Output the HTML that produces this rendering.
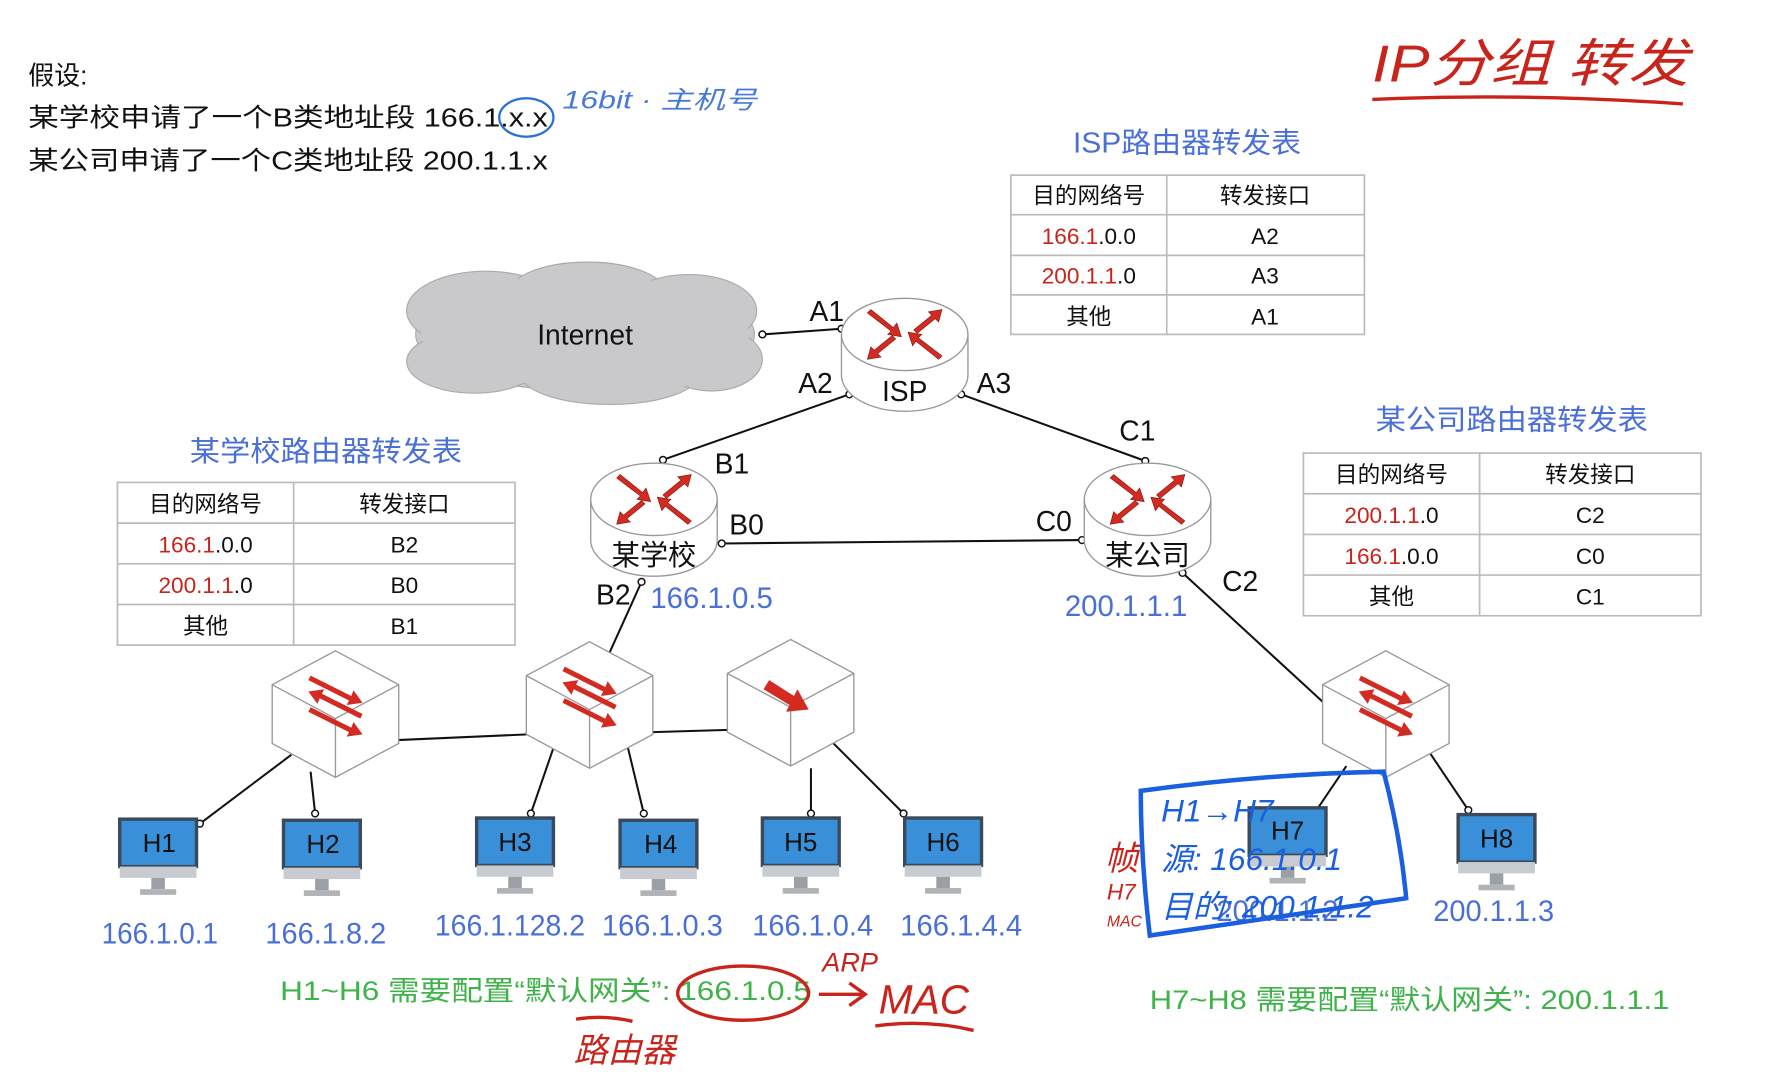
<!DOCTYPE html>
<html><head><meta charset="utf-8"><style>
html,body{margin:0;padding:0;background:#fff;}
svg{display:block;}
text{font-family:"Liberation Sans","Noto Sans CJK SC",sans-serif;}
</style></head><body>
<svg width="1771" height="1079" viewBox="0 0 1568 955" preserveAspectRatio="none" xmlns="http://www.w3.org/2000/svg">
<defs>
<g id="rarrows" fill="#d32a22" stroke="#8a1a14" stroke-width="0.6">
  <path d="M-30,-22 L-10,-6 L-7,-10 L-3,2 L-15,0 L-12,-3 L-33,-19Z"/>
  <path d="M8,-4 L24,-17 L21,-20 L33,-22 L30,-11 L27,-14 L11,-1Z"/>
  <path d="M-8,4 L-24,17 L-21,20 L-33,22 L-30,11 L-27,14 L-11,1Z"/>
  <path d="M30,22 L10,6 L7,10 L3,-2 L15,0 L12,3 L33,19Z"/>
</g>
<g id="router">
  <path d="M-56,0 L-56,36 A56,32 0 0 0 56,36 L56,0" fill="#fff" stroke="#999" stroke-width="1.2"/>
  <ellipse cx="0" cy="0" rx="56" ry="32" fill="#fff" stroke="#999" stroke-width="1.2"/>
  <use href="#rarrows"/>
</g>
<g id="sw">
  <path d="M0,-52 L56,-22 L56,30 L0,60 L-56,30 L-56,-22Z" fill="#fff" stroke="#999" stroke-width="1.2"/>
  <path d="M-56,-22 L0,8 L56,-22 M0,8 L0,60" fill="none" stroke="#999" stroke-width="1.2"/>
</g>
<g id="swarr" fill="#d32a22">
  <path d="M-22,-30 L14,-12 L16,-17 L24,-6 L10,-4 L12,-8 L-24,-26Z"/>
  <path d="M22,-6 L-14,-24 L-16,-19 L-24,-30 L-10,-32 L-12,-28 L24,-10Z" transform="translate(0,14)"/>
  <path d="M-22,-30 L14,-12 L16,-17 L24,-6 L10,-4 L12,-8 L-24,-26Z" transform="translate(0,28)"/>
</g>
<g id="host">
  <rect x="-34" y="0" width="68" height="42" fill="#3a8fd9" stroke="#3b4a5a" stroke-width="3"/>
  <rect x="-34" y="42" width="68" height="10" fill="#c8ccd0"/>
  <rect x="-6" y="52" width="12" height="10" fill="#9aa0a6"/>
  <rect x="-16" y="62" width="32" height="5" fill="#b0b4b8"/>
</g>
</defs>

<!-- top-left text -->
<g font-size="23" fill="#111">
<text x="25" y="75">假设:</text>
<text x="25" y="112" textLength="460" lengthAdjust="spacingAndGlyphs">某学校申请了一个B类地址段 166.1.x.x</text>
<text x="25" y="150" textLength="460" lengthAdjust="spacingAndGlyphs">某公司申请了一个C类地址段 200.1.1.x</text>
</g>
<ellipse cx="466" cy="104" rx="24" ry="17" fill="none" stroke="#2a6fd6" stroke-width="2"/>
<text x="498" y="96" font-size="22" fill="#4a7ad8" font-style="italic" textLength="172" lengthAdjust="spacingAndGlyphs">16bit · 主机号</text>

<!-- title -->
<text x="1215" y="72" font-size="46" fill="#c8241c" font-style="italic" textLength="280" lengthAdjust="spacingAndGlyphs">IP分组 转发</text>
<path d="M1215,88 Q1350,82 1490,92" stroke="#c8241c" stroke-width="3" fill="none"/>

<!-- ISP table -->
<text x="950" y="135" font-size="25" fill="#4a6fd6" textLength="202" lengthAdjust="spacingAndGlyphs">ISP路由器转发表</text>
<g stroke="#bbb" stroke-width="1.5" fill="none">
<rect x="895" y="155" width="313" height="141"/>
<line x1="895" y1="190" x2="1208" y2="190"/><line x1="895" y1="226" x2="1208" y2="226"/><line x1="895" y1="261" x2="1208" y2="261"/>
<line x1="1033" y1="155" x2="1033" y2="296"/>
</g>
<g font-size="20" text-anchor="middle" fill="#111">
<text x="964" y="180">目的网络号</text><text x="1120" y="180">转发接口</text>
<text x="964" y="216"><tspan fill="#c8241c">166.1</tspan>.0.0</text><text x="1120" y="216">A2</text>
<text x="964" y="251"><tspan fill="#c8241c">200.1.1</tspan>.0</text><text x="1120" y="251">A3</text>
<text x="964" y="287">其他</text><text x="1120" y="287">A1</text>
</g>

<!-- school table -->
<text x="168" y="408" font-size="25" fill="#4a6fd6" textLength="241" lengthAdjust="spacingAndGlyphs">某学校路由器转发表</text>
<g stroke="#bbb" stroke-width="1.5" fill="none">
<rect x="104" y="427" width="352" height="144"/>
<line x1="104" y1="463" x2="456" y2="463"/><line x1="104" y1="499" x2="456" y2="499"/><line x1="104" y1="535" x2="456" y2="535"/>
<line x1="260" y1="427" x2="260" y2="571"/>
</g>
<g font-size="20" text-anchor="middle" fill="#111">
<text x="182" y="453">目的网络号</text><text x="358" y="453">转发接口</text>
<text x="182" y="489"><tspan fill="#c8241c">166.1</tspan>.0.0</text><text x="358" y="489">B2</text>
<text x="182" y="525"><tspan fill="#c8241c">200.1.1</tspan>.0</text><text x="358" y="525">B0</text>
<text x="182" y="561">其他</text><text x="358" y="561">B1</text>
</g>

<!-- company table -->
<text x="1218" y="380" font-size="25" fill="#4a6fd6" textLength="241" lengthAdjust="spacingAndGlyphs">某公司路由器转发表</text>
<g stroke="#bbb" stroke-width="1.5" fill="none">
<rect x="1154" y="401" width="352" height="144"/>
<line x1="1154" y1="437" x2="1506" y2="437"/><line x1="1154" y1="473" x2="1506" y2="473"/><line x1="1154" y1="509" x2="1506" y2="509"/>
<line x1="1310" y1="401" x2="1310" y2="545"/>
</g>
<g font-size="20" text-anchor="middle" fill="#111">
<text x="1232" y="427">目的网络号</text><text x="1408" y="427">转发接口</text>
<text x="1232" y="463"><tspan fill="#c8241c">200.1.1</tspan>.0</text><text x="1408" y="463">C2</text>
<text x="1232" y="499"><tspan fill="#c8241c">166.1</tspan>.0.0</text><text x="1408" y="499">C0</text>
<text x="1232" y="535">其他</text><text x="1408" y="535">C1</text>
</g>

<!-- cloud -->
<g fill="#c9c9cb" stroke="#aaa" stroke-width="1">
<ellipse cx="518" cy="296" rx="150" ry="50"/>
<ellipse cx="430" cy="275" rx="70" ry="35"/>
<ellipse cx="520" cy="260" rx="70" ry="28"/>
<ellipse cx="610" cy="275" rx="60" ry="32"/>
<ellipse cx="420" cy="320" rx="60" ry="28"/>
<ellipse cx="540" cy="330" rx="80" ry="28"/>
<ellipse cx="630" cy="318" rx="45" ry="28"/>
</g>
<g fill="#c9c9cb"><ellipse cx="518" cy="296" rx="145" ry="46"/><ellipse cx="430" cy="275" rx="66" ry="31"/><ellipse cx="520" cy="260" rx="66" ry="24"/><ellipse cx="610" cy="275" rx="56" ry="28"/><ellipse cx="420" cy="320" rx="56" ry="24"/><ellipse cx="540" cy="330" rx="76" ry="24"/><ellipse cx="630" cy="318" rx="41" ry="24"/></g>
<text x="518" y="305" font-size="25" text-anchor="middle" fill="#111">Internet</text>

<!-- links -->
<g stroke="#111" stroke-width="1.8" fill="none">
<line x1="675" y1="296" x2="745" y2="291"/>
<line x1="752" y1="349" x2="587" y2="407"/>
<line x1="851" y1="349" x2="1014" y2="408"/>
<line x1="639" y1="481" x2="958" y2="478"/>
<line x1="568" y1="515" x2="535" y2="588"/>
<line x1="1047" y1="507" x2="1172" y2="622"/>
<line x1="352" y1="655" x2="467" y2="650"/>
<line x1="578" y1="648" x2="645" y2="646"/>
<line x1="258" y1="668" x2="177" y2="729"/>
<line x1="275" y1="683" x2="279" y2="720"/>
<line x1="490" y1="662" x2="470" y2="720"/>
<line x1="556" y1="662" x2="570" y2="720"/>
<line x1="718" y1="680" x2="718" y2="720"/>
<line x1="738" y1="658" x2="800" y2="720"/>
<line x1="1192" y1="678" x2="1165" y2="718"/>
<line x1="1265" y1="665" x2="1300" y2="717"/>
</g>
<g fill="#fff" stroke="#111" stroke-width="1.3">
<circle cx="675" cy="296" r="3"/><circle cx="745" cy="291" r="3"/><circle cx="752" cy="349" r="3"/><circle cx="851" cy="349" r="3"/>
<circle cx="587" cy="407" r="3"/><circle cx="1014" cy="408" r="3"/><circle cx="639" cy="481" r="3"/><circle cx="958" cy="478" r="3"/>
<circle cx="568" cy="515" r="3"/><circle cx="1047" cy="507" r="3"/><circle cx="177" cy="729" r="3"/><circle cx="279" cy="720" r="3"/>
<circle cx="470" cy="720" r="3"/><circle cx="570" cy="720" r="3"/><circle cx="718" cy="720" r="3"/><circle cx="800" cy="720" r="3"/><circle cx="1300" cy="717" r="3"/>
</g>

<!-- routers -->
<use href="#router" x="801" y="296"/>
<use href="#router" x="579" y="442"/>
<use href="#router" x="1016" y="442"/>
<g font-size="25" text-anchor="middle" fill="#111">
<text x="801" y="355">ISP</text>
<text x="579" y="500">某学校</text>
<text x="1016" y="500">某公司</text>
<text x="732" y="284">A1</text><text x="722" y="348">A2</text><text x="880" y="348">A3</text>
<text x="648" y="419">B1</text><text x="661" y="473">B0</text><text x="933" y="470">C0</text>
<text x="1007" y="390">C1</text><text x="1098" y="523">C2</text><text x="543" y="535">B2</text>
</g>
<g font-size="26" text-anchor="middle" fill="#4a6fd6">
<text x="630" y="538">166.1.0.5</text><text x="997" y="545">200.1.1.1</text>
</g>

<!-- switches -->
<use href="#sw" x="297" y="628"/><use href="#swarr" x="297" y="628"/>
<use href="#sw" x="522" y="620"/><use href="#swarr" x="522" y="620"/>
<use href="#sw" x="700" y="618"/>
<path d="M681,602 L703,616 L706,610 L716,628 L696,630 L699,624 L676,610Z" fill="#d32a22"/>
<use href="#sw" x="1227" y="628"/><use href="#swarr" x="1227" y="628"/>

<!-- hosts -->
<use href="#host" x="140" y="725"/><use href="#host" x="285" y="726"/><use href="#host" x="456" y="724"/><use href="#host" x="583" y="726"/>
<use href="#host" x="709" y="724"/><use href="#host" x="835" y="724"/><use href="#host" x="1140" y="715"/><use href="#host" x="1325" y="721"/>
<g font-size="23" text-anchor="middle" fill="#111">
<text x="141" y="754">H1</text><text x="286" y="755">H2</text><text x="456" y="753">H3</text><text x="585" y="755">H4</text>
<text x="709" y="753">H5</text><text x="835" y="753">H6</text><text x="1140" y="743">H7</text><text x="1325" y="750">H8</text>
</g>
<g font-size="26" fill="#4a6fd6">
<text x="90" y="835" textLength="103" lengthAdjust="spacingAndGlyphs">166.1.0.1</text>
<text x="235" y="835" textLength="107" lengthAdjust="spacingAndGlyphs">166.1.8.2</text>
<text x="385" y="828" textLength="133" lengthAdjust="spacingAndGlyphs">166.1.128.2</text>
<text x="533" y="828" textLength="107" lengthAdjust="spacingAndGlyphs">166.1.0.3</text>
<text x="666" y="828" textLength="107" lengthAdjust="spacingAndGlyphs">166.1.0.4</text>
<text x="797" y="828" textLength="108" lengthAdjust="spacingAndGlyphs">166.1.4.4</text>
<text x="1077" y="815" textLength="108" lengthAdjust="spacingAndGlyphs">200.1.1.2</text>
<text x="1269" y="815" textLength="107" lengthAdjust="spacingAndGlyphs">200.1.1.3</text>
</g>

<!-- green notes -->
<g font-size="24" fill="#3fb34a">
<text x="248" y="885" textLength="470" lengthAdjust="spacingAndGlyphs">H1~H6 需要配置“默认网关”: 166.1.0.5</text>
<text x="1018" y="893" textLength="460" lengthAdjust="spacingAndGlyphs">H7~H8 需要配置“默认网关”: 200.1.1.1</text>
</g>

<!-- red annotations -->
<g stroke="#c8241c" stroke-width="3" fill="none">
<ellipse cx="658" cy="879" rx="58" ry="24"/>
<path d="M725,880 L765,880 M752,870 L766,880 L752,890"/>
<path d="M510,902 Q535,898 560,904"/>
<path d="M775,908 Q820,902 862,912"/>
</g>
<g fill="#c8241c" font-style="italic">
<text x="728" y="860" font-size="24">ARP</text>
<text x="778" y="897" font-size="36">MAC</text>
<text x="508" y="940" font-size="30">路由器</text>
<text x="978" y="770" font-size="30">帧</text>
<text x="980" y="796" font-size="20">H7</text>
<text x="980" y="820" font-size="14">MAC</text>
</g>

<!-- blue handwritten box -->
<path d="M1010,700 Q1120,685 1225,683 Q1240,740 1245,795 Q1130,812 1018,828 Q1010,760 1010,700Z" fill="none" stroke="#1a5fe0" stroke-width="4"/>
<g fill="#1a5fe0" font-style="italic" font-size="28">
<text x="1028" y="727">H1→H7</text>
<text x="1028" y="770">源: 166.1.0.1</text>
<text x="1028" y="812">目的: 200.1.1.2</text>
</g>
</svg>
</body></html>
